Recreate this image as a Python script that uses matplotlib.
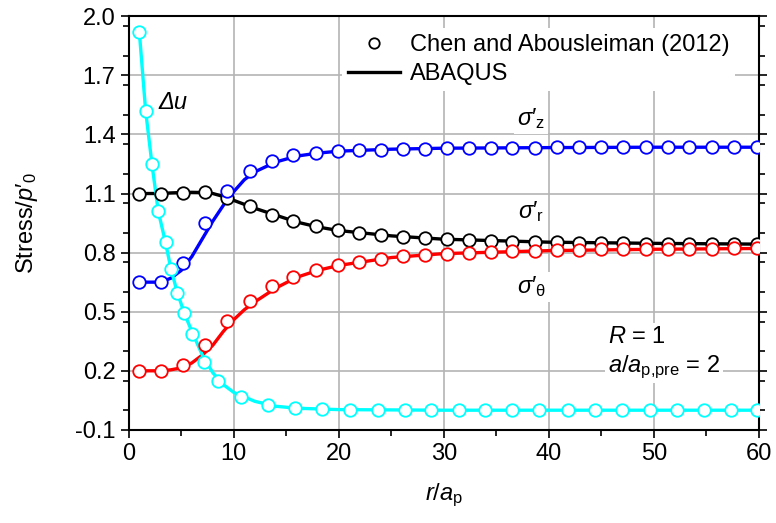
import numpy as np
import matplotlib
matplotlib.use('Agg')
import matplotlib.pyplot as plt
from matplotlib.lines import Line2D
from matplotlib.ticker import MultipleLocator

plt.rcParams['font.family'] = ['Liberation Sans', 'DejaVu Sans']
plt.rcParams['mathtext.fontset'] = 'custom'
plt.rcParams['mathtext.rm'] = 'Liberation Sans'
plt.rcParams['mathtext.it'] = 'Liberation Sans:italic'

# Chen and Abousleiman (2012) points
r_sig = [1.0, 3.1, 5.2, 7.3, 9.35, 11.5, 13.6, 15.6, 17.8, 19.9, 21.9, 24.0, 26.1, 28.2,
         30.3, 32.4, 34.5, 36.5, 38.7, 40.8, 42.9, 45.0, 47.1, 49.2, 51.3, 53.3, 55.5, 57.6, 59.8]
sz_pts = [0.650, 0.650, 0.748, 0.948, 1.112, 1.213, 1.264, 1.293, 1.306, 1.316, 1.320, 1.323,
          1.326, 1.328, 1.330, 1.331, 1.332, 1.333, 1.333, 1.334, 1.334, 1.335, 1.335, 1.335,
          1.335, 1.335, 1.335, 1.335, 1.335]
sr_pts = [1.100, 1.100, 1.105, 1.108, 1.075, 1.036, 0.993, 0.959, 0.934, 0.914, 0.902, 0.888,
          0.877, 0.872, 0.867, 0.863, 0.860, 0.856, 0.854, 0.853, 0.851, 0.849, 0.848, 0.846,
          0.846, 0.844, 0.844, 0.844, 0.843]
st_pts = [0.200, 0.200, 0.227, 0.330, 0.452, 0.555, 0.629, 0.677, 0.711, 0.736, 0.753, 0.770,
          0.782, 0.790, 0.795, 0.800, 0.804, 0.807, 0.809, 0.812, 0.814, 0.816, 0.817, 0.817,
          0.819, 0.819, 0.820, 0.821, 0.821]
r_du = [1.0, 1.6, 2.2, 2.8, 3.5, 4.0, 4.6, 5.3, 6.0, 7.2, 8.5, 10.7, 13.3, 15.8, 18.4,
        21.1, 23.7, 26.3, 28.8, 31.4, 33.9, 36.5, 39.1, 41.8, 44.4, 47.0, 49.6, 52.2, 54.8, 57.3, 59.8]
du_pts = [1.92, 1.52, 1.25, 1.012, 0.853, 0.716, 0.595, 0.494, 0.389, 0.244, 0.148, 0.065,
          0.024, 0.010, 0.005, 0.0, 0.0, 0.0, 0.0, 0.0, 0.0, 0.0, 0.0, 0.0, 0.0, 0.0, 0.0,
          0.0, 0.0, 0.0, 0.0]

# ABAQUS curves
r_fe = [1, 2, 3, 4, 5, 6, 7, 8, 9, 10, 11, 12, 14, 16, 18, 20, 25, 30, 40, 50, 60]
sz_fe = [0.65, 0.65, 0.65, 0.67, 0.71, 0.78, 0.87, 0.96, 1.04, 1.11, 1.17, 1.21, 1.26, 1.29,
         1.305, 1.315, 1.325, 1.33, 1.333, 1.335, 1.335]
sr_fe = [1.10, 1.10, 1.10, 1.103, 1.105, 1.106, 1.105, 1.10, 1.085, 1.065, 1.045, 1.025, 0.99,
         0.955, 0.93, 0.912, 0.885, 0.868, 0.853, 0.847, 0.843]
st_fe = [0.20, 0.20, 0.20, 0.205, 0.215, 0.24, 0.28, 0.33, 0.40, 0.46, 0.51, 0.55, 0.62, 0.675,
         0.71, 0.735, 0.775, 0.795, 0.81, 0.817, 0.821]
r_du_fe = [1.0, 1.6, 2.2, 2.8, 3.5, 4.0, 4.6, 5.3, 6.0, 7.0, 8.0, 9.0, 10.0, 12.0, 14.0, 16.0,
           20.0, 30.0, 60.0]
du_fe = [1.92, 1.52, 1.25, 1.01, 0.85, 0.72, 0.60, 0.49, 0.40, 0.28, 0.19, 0.13, 0.09, 0.045,
         0.02, 0.01, 0.003, 0.0, 0.0]

fig = plt.figure(figsize=(7.76, 5.23), dpi=100)
ax = fig.add_axes([0.166, 0.178, 0.812, 0.791])

series = [(r_sig, sr_pts, r_fe, sr_fe, 'black'),
          (r_sig, st_pts, r_fe, st_fe, 'red'),
          (r_sig, sz_pts, r_fe, sz_fe, 'blue'),
          (r_du, du_pts, r_du_fe, du_fe, 'cyan')]
for xp, yp, xl, yl, c in series:
    ax.plot(xl, yl, color=c, lw=2.4, zorder=3)
    ax.plot(xp, yp, 'o', ms=9, mfc='white', mec=c, mew=1.3, zorder=4)

ax.set_xlim(0, 60)
ax.set_ylim(-0.1, 2.0)
ax.xaxis.set_major_locator(MultipleLocator(10))
ax.xaxis.set_minor_locator(MultipleLocator(5))
ax.set_yticks(np.arange(-0.1, 2.01, 0.3))
ax.yaxis.set_minor_locator(MultipleLocator(0.15))
ax.set_yticklabels(['-0.1', '0.2', '0.5', '0.8', '1.1', '1.4', '1.7', '2.0'])
ax.grid(True, which='major', color='#b4b4b4', lw=1.2, zorder=0)
ax.tick_params(which='both', direction='out', labelsize=17, right=True, width=1.2)
ax.tick_params(which='major', length=6)
ax.tick_params(which='minor', length=4)
for s in ax.spines.values():
    s.set_linewidth(1.5)

ax.set_xlabel(r'$r/a_{\mathrm{p}}$', fontsize=17, labelpad=12)
ax.set_ylabel(r'Stress/$p$′$_{0}$', fontsize=17, labelpad=25)

box = dict(facecolor='white', edgecolor='none', pad=2)
ax.text(2.8, 1.563, 'Δu', fontsize=17, style='italic', va='center')
ax.text(38.3, 1.48, r'$\sigma$′$_{\mathrm{z}}$', fontsize=17, ha='center', va='center', bbox=box)
ax.text(38.3, 1.007, r'$\sigma$′$_{\mathrm{r}}$', fontsize=17, ha='center', va='center', bbox=box)
ax.text(38.4, 0.626, r'$\sigma$′$_{\mathrm{\theta}}$', fontsize=17, ha='center', va='center', bbox=box)
ax.text(45.6, 0.372, r'$R$ = 1', fontsize=17, va='center', bbox=box)
ax.text(45.6, 0.22, r'$a/a_{\mathrm{p{,}pre}}$ = 2', fontsize=17, va='center', bbox=box)

handles = [Line2D([], [], ls='none', marker='o', ms=7.5, mfc='white', mec='black', mew=1.3),
           Line2D([], [], color='black', lw=2.4)]
ax.legend(handles, ['Chen and Abousleiman (2012)', 'ABAQUS'], loc='upper right',
          bbox_to_anchor=(0.981, 1.0), fontsize=17, frameon=True, framealpha=1,
          edgecolor='none', fancybox=False, handlelength=2.2, borderpad=0.25,
          labelspacing=0.3, handletextpad=0.4)

fig.savefig('out.png', dpi=100)
